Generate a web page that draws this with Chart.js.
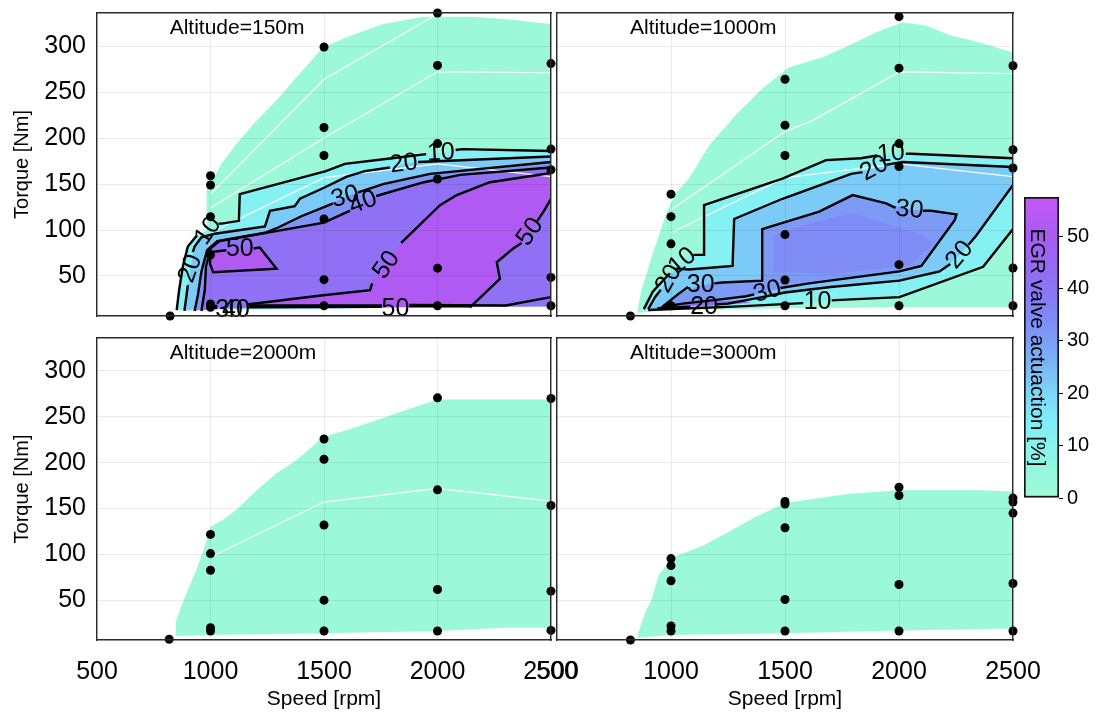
<!DOCTYPE html>
<html>
<head>
<meta charset="utf-8">
<script src="https://cdn.jsdelivr.net/npm/chart.js@4.4.0/dist/chart.umd.min.js"></script>
<style>
  html, body { margin: 0; padding: 0; background: #fff; }
  body { width: 1096px; height: 716px; position: relative; overflow: hidden; }
  canvas { position: absolute; }
</style>
</head>
<body>
<canvas id="p150" width="600" height="330" style="left:0;top:0"></canvas>
<canvas id="p1000" width="530" height="330" style="left:520px;top:0"></canvas>
<canvas id="p2000" width="600" height="391" style="left:0;top:325px"></canvas>
<canvas id="p3000" width="530" height="391" style="left:520px;top:325px"></canvas>
<canvas id="cbar" width="96" height="330" style="left:1000px;top:180px"></canvas>
<script>
// axis ranges and ticks
const speedMin = 500, speedMax = 2500, speedStep = 500;
const torqueMin = 6.5, torqueMax = 336, torqueStep = 50;

// colour scale of the EGR valve actuation [%]
const cbMax = 57.5;
const cmapLevels = [0, 10, 15, 20, 25, 30, 35, 40, 45, 50, 57.5];
const cmapColors = ['#a0fad4', '#88f4ee', '#80ecf8', '#7cd6f8', '#7ab8f6', '#7c9ef6',
                    '#8088f6', '#8a76f4', '#9868f4', '#a85cf2', '#c458f4'];

// measured operating points [speed, torque]
const dots150 = [[822, 6.5], [1000, 159], [1000, 149], [1000, 114.5], [1000, 73], [1000, 19.5], [1000, 16],
  [1500, 299], [1500, 211.5], [1500, 181], [1500, 112], [1500, 46], [1500, 17.7],
  [2000, 336], [2000, 279], [2000, 194], [2000, 155.5], [2000, 58.5], [2000, 17.7],
  [2500, 281], [2500, 188], [2500, 165.5], [2500, 48.5], [2500, 17.7]];
const dots1000 = [[822, 6.5], [1000, 139], [1000, 114.5], [1000, 85], [1000, 17.7],
  [1500, 264], [1500, 214], [1500, 181], [1500, 95], [1500, 45.7], [1500, 17.7],
  [2000, 332], [2000, 276], [2000, 194], [2000, 169], [2000, 62.3], [2000, 17.7],
  [2500, 278.6], [2500, 187.3], [2500, 167.4], [2500, 58.7], [2500, 17.7]];
const dots2000 = [[818, 7.3], [1000, 121.7], [1000, 100.8], [1000, 82.6], [1000, 20], [1000, 16.3],
  [1500, 225.8], [1500, 203.7], [1500, 132], [1500, 50], [1500, 16.3],
  [2000, 270.7], [2000, 170.3], [2000, 61.6], [2000, 16.3],
  [2500, 270], [2500, 153.3], [2500, 59.8], [2500, 17]];
const dots3000 = [[822, 6.5], [1000, 95.3], [1000, 87.7], [1000, 71.1], [1000, 21.8], [1000, 16.3],
  [1500, 157.6], [1500, 154.8], [1500, 129], [1500, 50.7], [1500, 16.3],
  [2000, 173.2], [2000, 164.1], [2000, 67.1], [2000, 16.3],
  [2500, 161.3], [2500, 157], [2500, 145], [2500, 68.2], [2500, 16.3]];

// covered operating range (filled, 0 % level)
const env150 = [[853, 13], [862, 40], [880, 65], [909, 80], [960, 96], [983, 100], [983, 143], [1049, 172],
  [1115, 194], [1203, 219], [1291, 241], [1379, 266], [1497, 299], [1614, 311], [1761, 324], [1937, 332],
  [2157, 332], [2319, 329], [2500, 324], [2500, 17], [2000, 17], [1500, 14], [1000, 13]];
const env1000 = [[852, 10], [870, 35], [889, 49], [920, 75], [947, 94], [976, 116], [1020, 140], [1079, 156],
  [1167, 192], [1284, 225], [1401, 254], [1518, 277], [1665, 288], [1782, 301], [1900, 315], [2016, 326],
  [2119, 322], [2222, 312], [2353, 304], [2500, 293], [2500, 16], [2000, 16], [1500, 15], [1000, 13]];
const env2000 = [[847, 11], [847, 26], [876, 46], [906, 65], [938, 83], [975, 109], [1000, 130], [1056, 138],
  [1115, 149], [1203, 170], [1291, 188.5], [1379, 203], [1497, 228], [1644, 239], [1820, 254], [2000, 269],
  [2500, 269], [2500, 20], [2300, 20], [2000, 16.3], [1500, 14], [1000, 12]];
const env3000 = [[852, 9], [855, 14], [886, 36], [915, 51], [947, 78], [1000, 95], [1020, 98], [1137, 109],
  [1256, 125], [1372, 141], [1500, 156], [1636, 161], [1782, 166], [2000, 170], [2353, 170], [2500, 168.5],
  [2500, 19], [2000, 17], [1500, 14], [1000, 12]];

// filled contour regions, 150 m: [level, outline]
const bands150 = [
  [12, [[851, 13], [862, 35], [878, 60], [900, 82], [940, 94], [990, 99], [1035, 107], [1050, 107], [1125, 110],
        [1129, 139], [1508, 164], [1592, 172], [1799, 178], [2015, 184], [2108, 188], [2500, 186],
        [2500, 17], [2000, 17], [1500, 15], [1000, 14]]],
  [22, [[885, 12], [895, 30], [912, 58], [930, 82], [960, 92], [1019, 96], [1240, 104], [1262, 121], [1371, 126],
        [1394, 134], [1500, 146], [1600, 158], [1680, 164], [1790, 168], [1852, 172], [1915, 174], [2500, 180],
        [2500, 17], [1000, 15]]],
  [32, [[930, 12], [945, 30], [960, 55], [985, 78], [1030, 88], [1240, 97], [1300, 103], [1400, 115], [1500, 125],
        [1593, 136], [1650, 141], [1760, 150], [1967, 161], [2500, 174], [2500, 17], [1000, 15]]],
  [42, [[960, 12], [975, 35], [980, 60], [1000, 80], [1040, 88], [1500, 108], [1672, 130], [1730, 137],
        [1940, 152], [2100, 160], [2500, 168], [2500, 17], [1000, 15]]],
  [52, [[1160, 19], [1497, 29], [1703, 34.5], [1718, 44.5], [1776, 62], [1835, 84], [2011, 127], [2085, 138],
        [2231, 152], [2500, 162], [2500, 134], [2467, 120], [2408, 98], [2334, 80], [2261, 65], [2275, 47],
        [2143, 16], [1160, 17]]],
  [52, [[1000, 76], [998, 63], [1012, 54], [1291, 58], [1217, 81], [1129, 79]]]
];
// contour lines, 150 m (pieces between the inline labels)
const lines150 = [
  [[851, 13], [862, 35], [878, 60], [900, 82], [940, 94]],
  [[1035, 107], [1050, 107], [1125, 110], [1129, 139], [1508, 164], [1592, 172], [1799, 178], [1950, 182.5]],
  [[2080, 187], [2108, 188], [2500, 186]],
  [[885, 12], [895, 30], [900, 40]],
  [[922, 76], [930, 82], [960, 92], [1019, 96], [1240, 104], [1262, 121], [1371, 126], [1394, 134], [1500, 146],
   [1600, 158], [1680, 164], [1790, 168]],
  [[1915, 174], [2500, 180]],
  [[930, 12], [945, 30], [960, 55], [985, 78], [1030, 88], [1240, 97], [1300, 103], [1400, 115], [1500, 125], [1540, 129]],
  [[1650, 141], [1760, 150], [1967, 161], [2500, 174]],
  [[960, 12], [975, 35], [980, 60], [1000, 80], [1040, 88], [1500, 108], [1615, 121]],
  [[1730, 137], [1940, 152], [2100, 160], [2500, 168]],
  [[1160, 19], [1497, 29], [1703, 34.5], [1712, 42]],
  [[1840, 86], [2011, 127], [2085, 138], [2231, 152], [2500, 162]],
  [[2500, 134], [2467, 120], [2440, 110]],
  [[2370, 86], [2334, 80], [2261, 65], [2275, 47], [2143, 16]],
  [[1070, 78], [1000, 76], [998, 63], [1012, 54], [1291, 58], [1217, 81], [1190, 80]],
  [[985, 15], [1030, 15.5]], [[1170, 16], [1755, 16.5]], [[1875, 17], [2150, 17]],
  [[1000, 17.5], [1030, 17.5]], [[1170, 18], [1755, 18]], [[1875, 18.5], [2300, 18], [2500, 27]]
];
// inline labels, 150 m: [speed, torque, text, angle]
const labels150 = [[990, 99, '10', -55], [912, 58, '20', -70], [1852, 172, '20', -8], [2015, 184, '10', -3],
  [1593, 136, '30', -15], [1672, 130, '40', -20], [1129, 79, '50', 0], [1776, 62, '50', -55],
  [2408, 98, '50', -55], [1082, 13, '30', 0], [1112, 13, '40', 0], [1815, 14, '50', 0]];

// filled contour regions, 1000 m
const bands1000 = [
  [12, [[881, 14], [920, 33], [995, 53], [1050, 66], [1098, 73], [1145, 73], [1145, 127], [1489, 156], [1680, 176],
        [1833, 178], [1965, 183], [2053, 183], [2500, 178], [2500, 101], [2369, 60], [2002, 27], [1746, 24],
        [1643, 22], [1550, 20], [1300, 17], [900, 13]]],
  [22, [[900, 14], [930, 27], [955, 35], [990, 49], [1020, 57], [1079, 57], [1270, 61], [1277, 112], [1489, 134],
        [1790, 161], [1892, 167], [2016, 174], [2500, 168.5], [2500, 149], [2339, 94], [2266, 73], [2178, 55],
        [2002, 45], [1700, 38], [1500, 32], [1400, 27], [1250, 20], [1145, 17], [1030, 16], [940, 15]]],
  [31, [[960, 16], [1030, 30], [1130, 40], [1225, 43], [1400, 45], [1400, 101], [1650, 120], [1797, 138],
        [1944, 129], [2046, 122], [2142, 121], [2252, 117], [2245, 111], [2098, 61], [2002, 55], [1606, 42],
        [1500, 38], [1423, 33], [1330, 28], [1200, 24], [1050, 20]]],
  [34, [[1450, 55], [1450, 95], [1650, 110], [1800, 118], [2100, 95], [2150, 85], [2050, 62], [1700, 52]]],
  [44, [[980, 17], [1100, 21], [1300, 24], [1350, 21], [1200, 18]]]
];
const lines1000 = [
  [[881, 14], [920, 33], [995, 53]],
  [[1098, 73], [1145, 73], [1145, 127], [1489, 156], [1680, 176], [1833, 178], [1905, 181]],
  [[2030, 183], [2053, 183], [2500, 178]],
  [[900, 13], [1300, 17], [1580, 20.5]],
  [[1705, 23.5], [1746, 24], [2002, 27], [2369, 60], [2500, 101]],
  [[900, 14], [930, 27], [955, 35]],
  [[1020, 58], [1079, 57], [1270, 61], [1277, 112], [1489, 134], [1790, 161], [1840, 163]],
  [[1945, 171], [2016, 174], [2500, 168.5]],
  [[940, 15], [1085, 16.5]],
  [[1195, 19], [1250, 20], [1400, 27], [1500, 32], [1700, 38], [2002, 45], [2178, 55], [2225, 63]],
  [[2305, 84], [2339, 94], [2500, 149]],
  [[960, 16], [1030, 30], [1075, 38]],
  [[1190, 42], [1225, 43], [1400, 45], [1400, 101], [1650, 120], [1797, 138], [1944, 129], [1985, 124]],
  [[2105, 121], [2142, 121], [2252, 117], [2245, 111], [2098, 61], [2002, 55], [1606, 42], [1480, 37]],
  [[1365, 30], [1330, 28], [1200, 24], [1050, 20], [960, 16]]
];
const labels1000 = [[1050, 66, '10', -40], [990, 47, '20', -60], [1965, 183, '10', -5], [1892, 167, '20', -28],
  [1130, 40, '30', 0], [2046, 122, '30', 5], [1423, 33, '30', -15], [1145, 16, '20', 0],
  [2266, 73, '20', -50], [1643, 22, '10', 0]];

// white reference curves
const white150a = [[1000, 139], [1500, 264], [2000, 335]];
const white150b = [[1000, 124], [1500, 200], [2000, 272], [2500, 271]];
const white1000b = [[1000, 122], [1200, 156], [1500, 207], [1620, 219], [2000, 272], [2500, 270]];
const whiteLow = [[1000, 97], [1500, 157], [2000, 172], [2500, 158]];

const FONT = "'Liberation Sans', Arial, Helvetica, sans-serif";
Chart.defaults.font.family = FONT;
Chart.defaults.color = '#000';

function hexToRgb(h) {
  return [parseInt(h.slice(1, 3), 16), parseInt(h.slice(3, 5), 16), parseInt(h.slice(5, 7), 16)];
}
function cmap(v) {
  let i = 0;
  while (i < cmapLevels.length - 2 && v > cmapLevels[i + 1]) i++;
  const t = Math.min(1, Math.max(0, (v - cmapLevels[i]) / (cmapLevels[i + 1] - cmapLevels[i])));
  const a = hexToRgb(cmapColors[i]), b = hexToRgb(cmapColors[i + 1]);
  const c = a.map((x, k) => Math.round(x + (b[k] - x) * t));
  return `rgb(${c[0]},${c[1]},${c[2]})`;
}

const pts = arr => arr.map(p => ({x: p[0], y: p[1]}));

function areaSet(arr, level) {
  return {data: pts(arr), fill: 'shape', backgroundColor: cmap(level), borderWidth: 0, pointRadius: 0, tension: 0};
}
function lineSet(arr, color, width) {
  return {data: pts(arr), fill: false, borderColor: color, borderWidth: width, pointRadius: 0, tension: 0};
}
function dotSet(arr) {
  return {data: pts(arr), showLine: false, pointRadius: 4.5, pointBackgroundColor: '#000',
          pointBorderWidth: 0, clip: false};
}

// keep the plot boxes exactly where they are, whatever the tick labels need
function fixBox(size, key) {
  return s => {
    s[key] = size;
    s.paddingLeft = s.paddingRight = s.paddingTop = s.paddingBottom = 0;
  };
}

function textPlugin(title, labels) {
  return {
    id: 'panelText',
    afterDatasetsDraw(chart) {
      const {ctx, scales: {x, y}} = chart;
      ctx.save();
      ctx.fillStyle = '#000';
      ctx.textBaseline = 'middle';
      ctx.textAlign = 'left';
      ctx.font = '21px ' + FONT;
      ctx.fillText(title, x.getPixelForValue(820), y.getPixelForValue(319));
      ctx.textAlign = 'center';
      ctx.font = '25px ' + FONT;
      labels.forEach(([sx, ty, txt, ang]) => {
        ctx.save();
        ctx.translate(x.getPixelForValue(sx), y.getPixelForValue(ty));
        ctx.rotate(ang * Math.PI / 180);
        ctx.fillText(txt, 0, 0);
        ctx.restore();
      });
      ctx.restore();
    }
  };
}

function makePanel(id, p) {
  const ds = [areaSet(p.env, 2)];
  (p.bands || []).forEach(b => ds.push(areaSet(b[1], b[0])));
  (p.white || []).forEach(w => ds.push(lineSet(w, '#ffffff', 1.2)));
  (p.lines || []).forEach(l => ds.push(lineSet(l, '#000000', 2.4)));
  ds.push(dotSet(p.dots));
  ds.forEach((d, i) => d.order = ds.length - i);

  const borderOpts = {color: '#2a2a2a', width: 1.4, z: 2};
  const gridOpts = {color: 'rgba(0,0,0,0.08)', drawTicks: false, z: 1};

  new Chart(document.getElementById(id), {
    type: 'line',
    data: {datasets: ds},
    options: {
      responsive: false,
      animation: false,
      events: [],
      layout: {padding: 0},
      plugins: {legend: {display: false}, tooltip: {enabled: false}},
      scales: {
        x: {
          type: 'linear', position: 'bottom', min: speedMin, max: speedMax,
          ticks: {display: p.showX, stepSize: speedStep, includeBounds: false, maxRotation: 0,
                  autoSkip: false, padding: 17, font: {size: 25}, callback: v => String(v)},
          grid: gridOpts, border: borderOpts,
          title: {display: p.showX, text: 'Speed [rpm]', font: {size: 21}, padding: {top: 0, bottom: 4}},
          afterFit: fixBox(p.bottom, 'height')
        },
        y: {
          type: 'linear', position: 'left', min: torqueMin, max: torqueMax,
          ticks: {display: p.showY, stepSize: torqueStep, includeBounds: false, padding: 11,
                  font: {size: 25}, callback: v => String(v)},
          grid: gridOpts, border: borderOpts,
          title: {display: p.showY, text: 'Torque [Nm]', font: {size: 20}, padding: {top: 10, bottom: 0}},
          afterFit: fixBox(p.left, 'width')
        },
        xTop: {
          type: 'linear', position: 'top', min: speedMin, max: speedMax,
          ticks: {display: false}, grid: {display: false}, border: borderOpts,
          afterFit: fixBox(13, 'height')
        },
        yRight: {
          type: 'linear', position: 'right', min: torqueMin, max: torqueMax,
          ticks: {display: false}, grid: {display: false}, border: borderOpts,
          afterFit: fixBox(p.right, 'width')
        }
      }
    },
    plugins: [textPlugin(p.title, p.labels || [])]
  });
}

makePanel('p150', {title: 'Altitude=150m', env: env150, bands: bands150, lines: lines150, labels: labels150,
  white: [white150a, white150b, whiteLow], dots: dots150, showX: false, showY: true, left: 97, right: 49, bottom: 14});
makePanel('p1000', {title: 'Altitude=1000m', env: env1000, bands: bands1000, lines: lines1000, labels: labels1000,
  white: [white1000b, whiteLow], dots: dots1000, showX: false, showY: false, left: 37, right: 37, bottom: 14});
makePanel('p2000', {title: 'Altitude=2000m', env: env2000, white: [whiteLow], dots: dots2000,
  showX: true, showY: true, left: 97, right: 49, bottom: 76});
makePanel('p3000', {title: 'Altitude=3000m', env: env3000, dots: dots3000,
  showX: true, showY: false, left: 37, right: 37, bottom: 76});

// colour bar
const cbLabel = {
  id: 'cbLabel',
  afterDraw(chart) {
    const {ctx, chartArea: a} = chart;
    ctx.save();
    ctx.translate(a.left + 13, (a.top + a.bottom) / 2);
    ctx.rotate(Math.PI / 2);
    ctx.fillStyle = '#000';
    ctx.font = '21px ' + FONT;
    ctx.textAlign = 'center';
    ctx.textBaseline = 'middle';
    ctx.fillText('EGR valve actuaction [%]', 0, 0);
    ctx.restore();
  }
};
new Chart(document.getElementById('cbar'), {
  type: 'bar',
  data: {
    labels: [''],
    datasets: [{
      data: [cbMax],
      backgroundColor: c => {
        const {ctx, chartArea} = c.chart;
        if (!chartArea) return '#fff';
        const g = ctx.createLinearGradient(0, chartArea.bottom, 0, chartArea.top);
        cmapLevels.forEach((v, i) => g.addColorStop(v / cbMax, cmapColors[i]));
        return g;
      },
      borderColor: '#151515', borderWidth: 2, borderSkipped: false,
      barPercentage: 1, categoryPercentage: 1
    }]
  },
  options: {
    responsive: false, animation: false, events: [],
    layout: {padding: {left: 24, top: 17, bottom: 12, right: 0}},
    plugins: {legend: {display: false}, tooltip: {enabled: false}},
    scales: {
      x: {display: false},
      y: {
        position: 'right', min: 0, max: cbMax,
        ticks: {stepSize: 10, includeBounds: false, padding: 4, font: {size: 20}},
        grid: {drawOnChartArea: false, drawTicks: true, tickLength: 4, color: '#000'},
        border: {display: false},
        afterFit: fixBox(37, 'width')
      }
    }
  },
  plugins: [cbLabel]
});
</script>
</body>
</html>
